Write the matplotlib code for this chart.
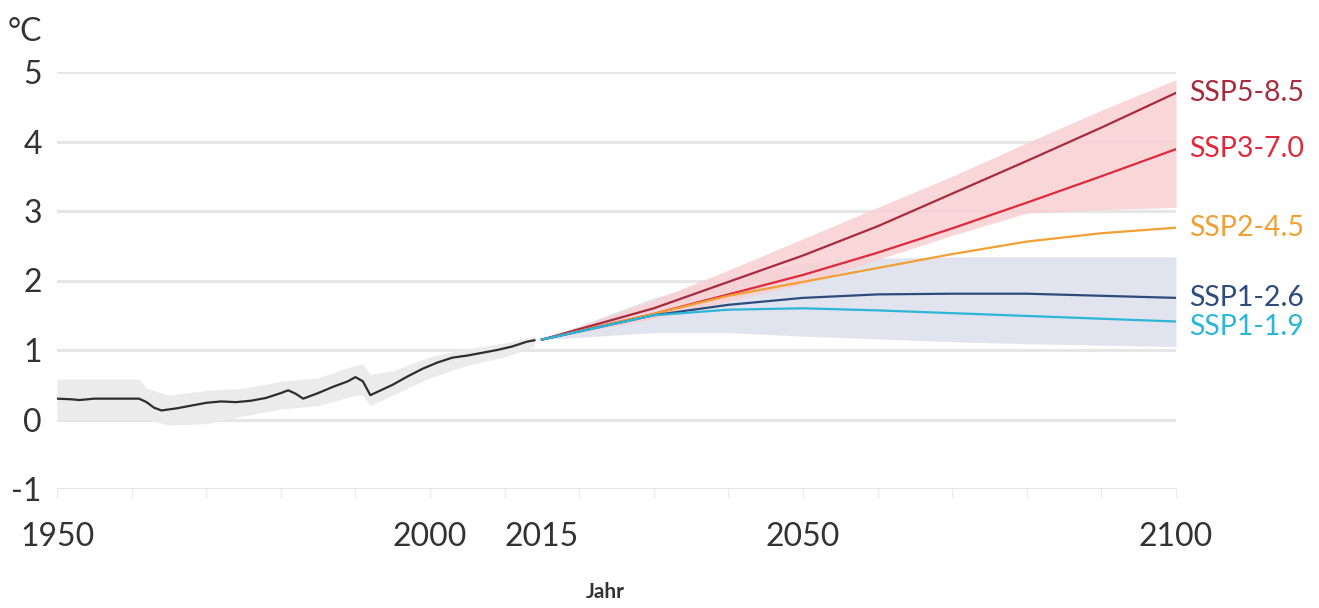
import matplotlib.pyplot as plt
import numpy as np

plt.rcParams['font.family'] = ['Lato', 'DejaVu Sans']

# observed warming (°C)
hist_years = [1950, 1952, 1953, 1955, 1958, 1961, 1962, 1963, 1964, 1966, 1968, 1970,
              1972, 1974, 1976, 1978, 1980, 1981, 1982, 1983, 1985, 1987, 1989, 1990,
              1991, 1992, 1993, 1995, 1997, 1999, 2001, 2003, 2005, 2007, 2009, 2011,
              2013, 2014]
hist_temp = [0.30, 0.29, 0.28, 0.30, 0.30, 0.30, 0.25, 0.17, 0.13, 0.16, 0.20, 0.24,
             0.26, 0.25, 0.27, 0.31, 0.38, 0.42, 0.37, 0.30, 0.38, 0.47, 0.55, 0.61,
             0.55, 0.35, 0.40, 0.50, 0.62, 0.73, 0.82, 0.89, 0.92, 0.96, 1.00, 1.05,
             1.12, 1.14]

band_years = [1950, 1961, 1962, 1965, 1970, 1975, 1980, 1985, 1990, 1991, 1992, 1995,
              2000, 2005, 2010, 2014]
band_hi = [0.58, 0.58, 0.45, 0.35, 0.42, 0.45, 0.55, 0.60, 0.78, 0.80, 0.65, 0.70,
           0.90, 1.02, 1.10, 1.20]
band_lo = [0.00, 0.00, 0.00, -0.08, -0.06, 0.05, 0.15, 0.20, 0.35, 0.35, 0.20, 0.35,
           0.60, 0.78, 0.90, 1.05]

# projections
proj_years = [2015, 2030, 2040, 2050, 2060, 2070, 2080, 2090, 2100]
ssp585 = [1.15, 1.60, 1.98, 2.36, 2.78, 3.25, 3.72, 4.20, 4.70]
ssp370 = [1.15, 1.52, 1.80, 2.08, 2.40, 2.75, 3.12, 3.50, 3.89]
ssp245 = [1.15, 1.52, 1.78, 1.98, 2.18, 2.38, 2.56, 2.68, 2.76]
ssp126 = [1.15, 1.50, 1.65, 1.75, 1.80, 1.81, 1.81, 1.78, 1.75]
ssp119 = [1.15, 1.50, 1.58, 1.60, 1.57, 1.53, 1.49, 1.45, 1.41]

high_hi = [1.15, 1.72, 2.15, 2.60, 3.05, 3.50, 3.98, 4.45, 4.89]
high_lo = [1.15, 1.45, 1.70, 1.95, 2.30, 2.65, 2.97, 3.02, 3.05]
low_hi = [1.15, 1.75, 2.05, 2.25, 2.32, 2.34, 2.34, 2.34, 2.34]
low_lo = [1.15, 1.25, 1.25, 1.20, 1.16, 1.12, 1.09, 1.07, 1.05]

names = ['SSP5-8.5', 'SSP3-7.0', 'SSP2-4.5', 'SSP1-2.6', 'SSP1-1.9']
series = [ssp585, ssp370, ssp245, ssp126, ssp119]
colors = ['#a82a3e', '#e02a3c', '#f2a033', '#2d4b7c', '#2cb6d8']
label_shift = [0, 0, 0, 0, -0.08]

txt = '#333333'

fig = plt.figure(figsize=(13.19, 6.08), dpi=100)
ax = fig.add_axes([57 / 1319, 1 - 489 / 608, 1119 / 1319, 417 / 608])

ax.set_xlim(1950, 2100)
ax.set_ylim(-1, 5)

for y in range(-1, 6):
    ax.axhline(y, color='#e6e6e6', lw=2.2, zorder=0)
for x in range(1950, 2101, 10):
    ax.plot([x, x], [-1, -1.12], color='#ebebeb', lw=1, clip_on=False, zorder=0)

ax.fill_between(band_years, band_lo, band_hi, color='#ebebeb', lw=0, zorder=1)
ax.fill_between(proj_years, low_lo, low_hi, color='#e1e3ee', lw=0, zorder=1)
ax.fill_between(proj_years, high_lo, high_hi, color='#f8cfd2', alpha=0.85, lw=0, zorder=2)

ax.plot(hist_years, hist_temp, color='#2e2e2e', lw=1.6, zorder=4)

for name, vals, c, dy in zip(names, series, colors, label_shift):
    ax.plot(proj_years, vals, color=c, lw=1.6, zorder=5)
    ax.text(2101.8, vals[-1] + dy, name, color=c, fontsize=20.5, va='center', ha='left')

for s in ax.spines.values():
    s.set_visible(False)

ax.set_xticks([1950, 2000, 2015, 2050, 2100])
ax.set_yticks(range(-1, 6))
ax.set_yticklabels([str(v) for v in range(-1, 6)])
ax.tick_params(axis='both', length=0, labelsize=23, labelcolor=txt)
ax.tick_params(axis='x', pad=24)
ax.tick_params(axis='y', pad=11)

fig.text(8 / 1319, 1 - 32 / 608, '°C', fontsize=23, color=txt, va='center', ha='left')
fig.text(605 / 1319, 1 - 592 / 608, 'Jahr', fontsize=15, fontweight='bold',
         color=txt, va='center', ha='center')

fig.savefig('out.png', dpi=100)
